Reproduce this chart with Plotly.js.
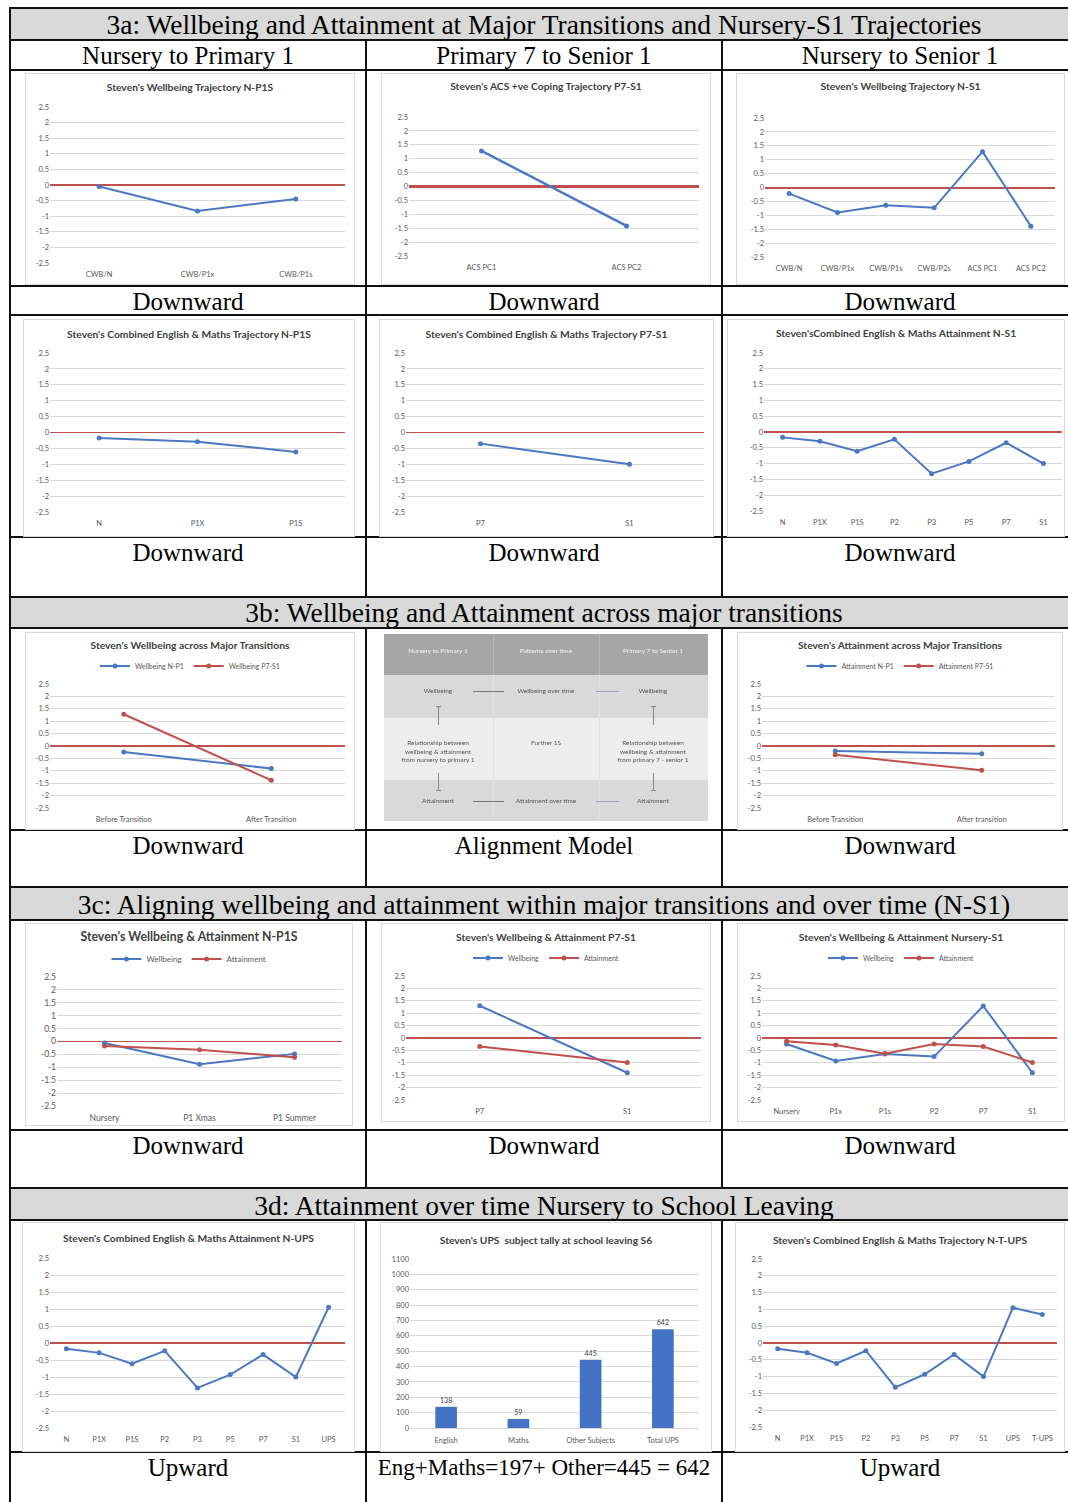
<!DOCTYPE html>
<html><head><meta charset="utf-8">
<script src="https://cdn.plot.ly/plotly-3.0.1.min.js"></script>
<style>
html,body{margin:0;padding:0;background:#fff;}
#page{position:relative;width:1068px;height:1502px;overflow:hidden;background:#fff;font-family:'Liberation Serif','Times New Roman',serif;}
.hline{position:absolute;height:2px;background:#111;}
.vline{position:absolute;width:2px;background:#111;}
.band{position:absolute;background:#d9d9d9;}
.txt{position:absolute;text-align:center;font-size:25px;line-height:28px;height:28px;color:#000;white-space:nowrap;}
.frame{position:absolute;border:1px solid #d9d9d9;background:#fff;}
.dg{position:absolute;}
.dt{position:absolute;text-align:center;font-family:Lato,'Open Sans',sans-serif;font-size:6.5px;line-height:8px;white-space:nowrap;color:#555;}
</style></head><body><div id="page"></div>
<script>
// ---------------- DATA ----------------
const yTickVals = [2.5,2,1.5,1,0.5,0,-0.5,-1,-1.5,-2,-2.5];
const yTickText = ["2.5","2","1.5","1","0.5","0","-0.5","-1","-1.5","-2","-2.5"];

const wbNP1S_cats = ["CWB/N","CWB/P1x","CWB/P1s"];
const wbNP1S_vals = [-0.05,-0.83,-0.45];

const acsP7S1_cats = ["ACS PC1","ACS PC2"];
const acsP7S1_vals = [1.28,-1.42];

const wbNS1_cats = ["CWB/N","CWB/P1x","CWB/P1s","CWB/P2s","ACS PC1","ACS PC2"];
const wbNS1_vals = [-0.22,-0.9,-0.64,-0.73,1.29,-1.39];

const emNP1S_cats = ["N","P1X","P1S"];
const emNP1S_vals = [-0.17,-0.29,-0.61];

const emP7S1_cats = ["P7","S1"];
const emP7S1_vals = [-0.35,-1.0];

const emNS1_cats = ["N","P1X","P1S","P2","P3","P5","P7","S1"];
const emNS1_vals = [-0.17,-0.29,-0.61,-0.23,-1.32,-0.93,-0.34,-1.0];

const transCatsA = ["Before Transition","After Transition"];
const wbNP1_vals = [-0.24,-0.91];
const wbP7S1_vals = [1.28,-1.38];

const transCatsB = ["Before Transition","After transition"];
const atNP1_vals = [-0.2,-0.31];
const atP7S1_vals = [-0.35,-0.98];

const waNP1S_cats = ["Nursery","P1 Xmas","P1 Summer"];
const waNP1S_wb = [-0.06,-0.88,-0.48];
const waNP1S_at = [-0.17,-0.32,-0.61];

const waP7S1_cats = ["P7","S1"];
const waP7S1_wb = [1.3,-1.4];
const waP7S1_at = [-0.34,-0.99];

const waNS1_cats = ["Nursery","P1x","P1s","P2","P7","S1"];
const waNS1_wb = [-0.24,-0.93,-0.65,-0.75,1.29,-1.4];
const waNS1_at = [-0.13,-0.28,-0.63,-0.24,-0.34,-0.99];

const emNUPS_cats = ["N","P1X","P1S","P2","P3","P5","P7","S1","UPS"];
const emNUPS_vals = [-0.17,-0.29,-0.61,-0.23,-1.32,-0.93,-0.34,-1.0,1.05];

const upsCats = ["English","Maths","Other Subjects","Total UPS"];
const upsVals = [138,59,445,642];
const upsTickVals = [0,100,200,300,400,500,600,700,800,900,1000,1100];

const emNTUPS_cats = ["N","P1X","P1S","P2","P3","P5","P7","S1","UPS","T-UPS"];
const emNTUPS_vals = [-0.17,-0.29,-0.61,-0.23,-1.32,-0.93,-0.34,-1.0,1.05,0.85];

const sectionTitles = [
  "3a: Wellbeing and Attainment at Major Transitions and Nursery-S1 Trajectories",
  "3b: Wellbeing and Attainment across major transitions",
  "3c: Aligning wellbeing and attainment within major transitions and over time (N-S1)",
  "3d: Attainment over time Nursery to School Leaving"
];
const columnTitles = ["Nursery to Primary 1","Primary 7 to Senior 1","Nursery to Senior 1"];
const rowLabels = [
  ["Downward","Downward","Downward"],
  ["Downward","Downward","Downward"],
  ["Downward","Alignment Model","Downward"],
  ["Downward","Downward","Downward"],
  ["Upward","Eng+Maths=197+ Other=445 = 642","Upward"]
];

const diagHeader = ["Nursery to Primary 1","Patterns over time","Primary 7 to Senior 1"];
const diagRow1 = ["Wellbeing","Wellbeing over time","Wellbeing"];
const diagRow2 = [["Relationship between","wellbeing & attainment","from nursery to primary 1"],["Further 1S"],["Relationship between","wellbeing & attainment","from primary 7 - senior 1"]];
const diagRow3 = ["Attainment","Attainment over time","Attainment"];

// ---------------- TABLE ----------------
const page = document.getElementById('page');
function el(cls, css, html){ const d=document.createElement('div'); d.className=cls; Object.assign(d.style,css); if(html!==undefined) d.innerHTML=html; page.appendChild(d); return d; }

const bands = [[8,40],[597,628],[887,920],[1188,1220]];
bands.forEach(b=>el('band',{left:'10px',top:b[0]+'px',width:'1068px',height:(b[1]-b[0])+'px'}));

const hl = [8,40,70,286,315,537,597,628,830,887,920,1130,1188,1220,1452];
hl.forEach(y=>el('hline',{left:'10px',top:(y-1)+'px',width:'1068px'}));
el('vline',{left:'9px',top:'7px',height:'1500px'});
const vsegs = [[40,597],[628,887],[920,1188],[1220,1502]];
[366,722].forEach(x=>vsegs.forEach(s=>el('vline',{left:(x-1)+'px',top:s[0]+'px',height:(s[1]-s[0])+'px'})));

const colCenters = [188,544,900];
function txt(s,cx,cy,w,fs){ const d=el('txt',{left:(cx-w/2)+'px',top:(cy-14)+'px',width:w+'px'}, s); if(fs) d.style.fontSize=fs+'px'; return d; }
const secY = [25,613,905,1206];
sectionTitles.forEach((s,i)=>txt(s,544,secY[i],1060,27.5));
columnTitles.forEach((s,i)=>txt(s,colCenters[i],56,350));
const labY = [302,553,846,1146,1468];
rowLabels.forEach((r,ri)=>r.forEach((s,ci)=>txt(s,colCenters[ci],labY[ri],350, s.length>20?23:null)));

// ---------------- DIAGRAM ----------------
(function(){
  const ox=384, oy=634;
  const dg = document.createElement('div'); dg.className='dg';
  Object.assign(dg.style,{left:ox+'px',top:oy+'px',width:'324px',height:'187px',background:'#e6e6e6',filter:'blur(0.5px)'});
  page.appendChild(dg);
  function r(x,y,w,h,bg){ const d=document.createElement('div'); d.className='dg'; Object.assign(d.style,{left:x+'px',top:y+'px',width:w+'px',height:h+'px',background:bg}); dg.appendChild(d); return d; }
  function t(s,cx,cy,col){ const d=document.createElement('div'); d.className='dt'; Object.assign(d.style,{left:(cx-55)+'px',top:(cy-4)+'px',width:'110px'}); if(col) d.style.color=col; d.textContent=s; dg.appendChild(d); }
  r(0,0,324,41,'#a6a6a6');
  r(0,41,324,43,'#d9d9d9');
  r(0,84,324,62,'#ededed');
  r(0,146,324,41,'#d9d9d9');
  [109,215].forEach(x=>{ r(x,0,1,41,'#b8b8b8'); r(x,41,1,146,'#e2e2e2'); });
  const cc=[54,162,269];
  diagHeader.forEach((s,i)=>t(s,cc[i],17,'#f4f4f4'));
  diagRow1.forEach((s,i)=>t(s,cc[i],57));
  diagRow3.forEach((s,i)=>t(s,cc[i],167));
  diagRow2.forEach((lines,i)=>lines.forEach((s,j)=>t(s,cc[i],109+j*8.5)));
  [57,167].forEach(y=>{ r(89,y,31,1,'#777'); r(212,y,23,1,'#9aa3b8'); });
  [54,269].forEach(x=>{ r(x,72,1,19,'#888'); r(x-2,72,5,1,'#888'); r(x,139,1,17,'#888'); r(x-2,156,5,1,'#888'); });
})();

// ---------------- CHARTS ----------------
const FONT = "Lato, 'Open Sans', sans-serif";
const BLUE = '#4a78c2';
const RED = '#c0504d';

function frame(s){
  const d=document.createElement('div'); d.className='frame'; d.id=s.id;
  Object.assign(d.style,{left:s.x+'px',top:s.y+'px',width:(s.w-2)+'px',height:(s.h-2)+'px'});
  page.appendChild(d); return d;
}

function lineChart(s){
  frame(s);
  const W=s.w-2, H=s.h-2, fs=s.fs||7.5;
  const traces = s.series.map(se=>({
    x:s.cats, y:se.vals, type:'scatter', mode:'lines+markers', name:se.name||'',
    line:{color:se.color,width:s.lw||2}, marker:{color:se.color,size:5}, cliponaxis:false
  }));
  const layout = {
    width:W, height:H, margin:{l:s.m[0]-1,r:s.m[1]-1,t:s.m[2]-1,b:s.m[3]-1,pad:0},
    paper_bgcolor:'#fff', plot_bgcolor:'#fff',
    font:{family:FONT,size:fs,color:'#595959'},
    title:{text:'<b>'+s.title+'</b>', font:{family:FONT,size:s.tfs||10.3,color:'#404040'},
      x:0.5, xref:'container', xanchor:'center', y:1-(s.ty-1)/H, yref:'container', yanchor:'middle'},
    showlegend: !!s.legend,
    xaxis:{type:'category', range:[-0.5,s.cats.length-0.5], showgrid:false, zeroline:false, showline:false,
      ticks:'', tickangle:0, ticklabelstandoff:5, tickfont:{family:FONT,size:fs,color:'#595959'}, fixedrange:true},
    yaxis:{range:[-2.5,2.5], tickmode:'array', tickvals:yTickVals, ticktext:yTickText,
      showgrid:true, gridcolor:'#d9d9d9', gridwidth:1, zeroline:true, zerolinecolor:RED, zerolinewidth:s.zw||1.5,
      showline:false, ticks:'', tickfont:{family:FONT,size:fs,color:'#595959'}, fixedrange:true}
  };
  if(s.legend){
    layout.legend={orientation:'h', xref:'container', x:0.5, xanchor:'center', yref:'container', y:1-(s.ly-1)/H, yanchor:'middle',
      font:{family:FONT,size:s.lfs||7,color:'#595959'}, bgcolor:'rgba(0,0,0,0)', itemwidth:30, tracegroupgap:0};
  }
  Plotly.newPlot(s.id, traces, layout, {staticPlot:true, displayModeBar:false});
}

function barChart(s){
  frame(s);
  const W=s.w-2, H=s.h-2, fs=7.5;
  const traces=[{x:upsCats, y:upsVals, type:'bar', marker:{color:'#4472c4'},
    text:upsVals.map(String), textposition:'outside', cliponaxis:false,
    textfont:{family:FONT,size:7,color:'#404040'}}];
  const layout={
    width:W, height:H, margin:{l:s.m[0]-1,r:s.m[1]-1,t:s.m[2]-1,b:s.m[3]-1,pad:0},
    paper_bgcolor:'#fff', plot_bgcolor:'#fff', bargap:0.7,
    font:{family:FONT,size:fs,color:'#595959'},
    title:{text:'<b>'+s.title+'</b>', font:{family:FONT,size:10.3,color:'#404040'},
      x:0.5, xref:'container', xanchor:'center', y:1-(s.ty-1)/H, yref:'container', yanchor:'middle'},
    showlegend:false,
    xaxis:{type:'category', showgrid:false, zeroline:false, showline:true, linecolor:'#d9d9d9', linewidth:1,
      ticks:'', tickangle:0, ticklabelstandoff:5, tickfont:{family:FONT,size:fs,color:'#595959'}},
    yaxis:{range:[0,1100], tickmode:'array', tickvals:upsTickVals, showgrid:true, gridcolor:'#d9d9d9', gridwidth:1,
      zeroline:false, showline:false, ticks:'', tickfont:{family:FONT,size:fs,color:'#595959'}}
  };
  Plotly.newPlot(s.id, traces, layout, {staticPlot:true, displayModeBar:false});
}

const lineSpecs = [
  {id:'c1', x:25,y:73,w:330,h:212, m:[25,10,34,22], ty:14, title:"Steven's Wellbeing Trajectory N-P1S",
    cats:wbNP1S_cats, series:[{vals:wbNP1S_vals,color:BLUE}]},
  {id:'c2', x:381,y:73,w:330,h:212, m:[28,12,44,29], ty:13, title:"Steven's ACS +ve Coping Trajectory P7-S1",
    cats:acsP7S1_cats, series:[{vals:acsP7S1_vals,color:BLUE}], lw:2.5, zw:2.5},
  {id:'c3', x:736,y:73,w:329,h:212, m:[29,10,45,28], ty:13, title:"Steven's Wellbeing Trajectory N-S1",
    cats:wbNS1_cats, series:[{vals:wbNS1_vals,color:BLUE}], zw:2},
  {id:'c4', x:23,y:319,w:332,h:218, m:[27,10,34,25], ty:15, title:"Steven's Combined English &amp; Maths Trajectory N-P1S",
    cats:emNP1S_cats, series:[{vals:emNP1S_vals,color:BLUE}]},
  {id:'c5', x:379,y:319,w:335,h:218, m:[27,10,34,25], ty:15, title:"Steven's Combined English &amp; Maths Trajectory P7-S1",
    cats:emP7S1_cats, series:[{vals:emP7S1_vals,color:BLUE}]},
  {id:'c6', x:727,y:319,w:338,h:218, m:[37,3,34,26], ty:14, title:"Steven'sCombined English &amp; Maths Attainment N-S1",
    cats:emNS1_cats, series:[{vals:emNS1_vals,color:BLUE}]},
  {id:'c7', x:25,y:632,w:330,h:198, m:[25,10,52,22], ty:13, ly:34, legend:true, title:"Steven's Wellbeing across Major Transitions",
    cats:transCatsA, series:[{vals:wbNP1_vals,color:BLUE,name:'Wellbeing N-P1'},{vals:wbP7S1_vals,color:RED,name:'Wellbeing P7-S1'}]},
  {id:'c9', x:737,y:632,w:326,h:198, m:[25,8,52,22], ty:13, ly:34, legend:true, title:"Steven's Attainment across Major Transitions",
    cats:transCatsB, series:[{vals:atNP1_vals,color:BLUE,name:'Attainment N-P1'},{vals:atP7S1_vals,color:RED,name:'Attainment P7-S1'}]},
  {id:'c10', x:25,y:923,w:328,h:203, m:[32,11,54,20], ty:14, ly:36, legend:true, fs:8.5, lfs:8, tfs:12.3, title:"Steven's Wellbeing &amp; Attainment N-P1S",
    cats:waNP1S_cats, series:[{vals:waNP1S_wb,color:BLUE,name:'Wellbeing'},{vals:waNP1S_at,color:RED,name:'Attainment'}]},
  {id:'c11', x:381,y:923,w:330,h:199, m:[25,10,53,22], ty:14, ly:35, legend:true, title:"Steven's Wellbeing &amp; Attainment P7-S1",
    cats:waP7S1_cats, series:[{vals:waP7S1_wb,color:BLUE,name:'Wellbeing'},{vals:waP7S1_at,color:RED,name:'Attainment'}]},
  {id:'c12', x:737,y:923,w:328,h:199, m:[25,8,53,22], ty:14, ly:35, legend:true, title:"Steven's Wellbeing &amp; Attainment Nursery-S1",
    cats:waNS1_cats, series:[{vals:waNS1_wb,color:BLUE,name:'Wellbeing'},{vals:waNS1_at,color:RED,name:'Attainment'}]},
  {id:'c13', x:22,y:1222,w:333,h:230, m:[28,10,36,24], ty:16, title:"Steven's Combined English &amp; Maths Attainment N-UPS",
    cats:emNUPS_cats, series:[{vals:emNUPS_vals,color:BLUE}]},
  {id:'c15', x:735,y:1222,w:330,h:230, m:[28,8,37,25], ty:18, title:"Steven's Combined English &amp; Maths Trajectory N-T-UPS",
    cats:emNTUPS_cats, series:[{vals:emNTUPS_vals,color:BLUE}]}
];
lineSpecs.forEach(lineChart);
barChart({id:'c14', x:380,y:1222,w:332,h:230, m:[30,13,37,24], ty:18, title:"Steven's UPS  subject tally at school leaving S6"});
</script></body></html>
